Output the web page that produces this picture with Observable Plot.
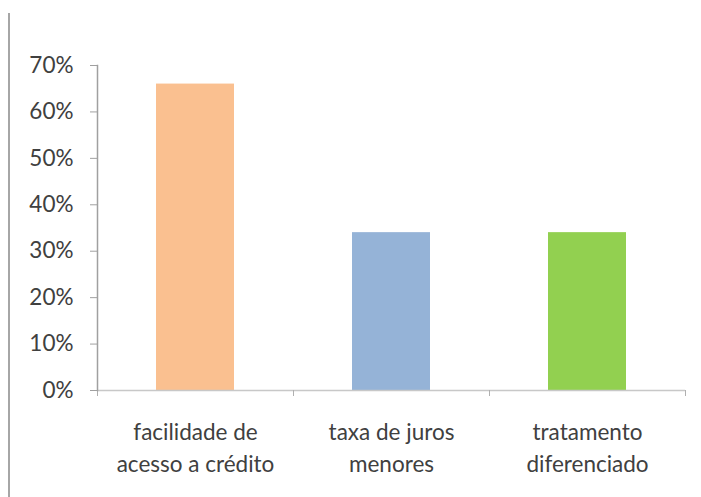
<!DOCTYPE html>
<html>
<head>
<meta charset="utf-8">
<script src="https://cdn.jsdelivr.net/npm/d3@7"></script>
<script src="https://cdn.jsdelivr.net/npm/@observablehq/plot@0.6"></script>
<style>
  body { margin: 0; background: #fff; }
  #chart { position: relative; width: 701px; height: 497px; overflow: hidden; }
  #chart .edge { position: absolute; left: 8px; top: 13px; bottom: 0; width: 2px; background: #a6a6a6; }
  #chart svg { position: absolute; left: 0; top: 0; }
</style>
</head>
<body>
<div id="chart"><div class="edge"></div></div>
<script>
// Reasons cited, share of respondents
const categories = [
  "facilidade de\nacesso a crédito",
  "taxa de juros\nmenores",
  "tratamento\ndiferenciado"
];
const shares = [0.66, 0.34, 0.34];
const barColors = ["#FAC090", "#95B3D7", "#92D050"];
const yTicks = [0, 0.1, 0.2, 0.3, 0.4, 0.5, 0.6, 0.7];

const data = categories.map((category, i) => ({ category, share: shares[i], color: barColors[i] }));

const width = 701, height = 497;
const margin = { top: 65, right: 16, bottom: 107, left: 97 };
const paddingInner = 0.6, paddingOuter = 0.3;
// distance between category centres, used to put the x ticks on the boundaries
const step = (width - margin.left - margin.right) / (categories.length - paddingInner + 2 * paddingOuter);

const font = "Lato, 'Open Sans', sans-serif";
const textColor = "#404040";

const chart = Plot.plot({
  width, height,
  marginTop: margin.top,
  marginRight: margin.right,
  marginBottom: margin.bottom,
  marginLeft: margin.left,
  style: { fontFamily: font, fontSize: "22.5px", color: textColor, background: "transparent" },
  x: { domain: categories, paddingInner, paddingOuter },
  y: { domain: [0, 0.7] },
  marks: [
    Plot.barY(data, { x: "category", y: "share", fill: "color" }),
    // horizontal baseline and category boundary ticks
    Plot.ruleY([0], { stroke: "#c8c8c8", strokeWidth: 1.5 }),
    Plot.ruleX(data, { x: "category", y1: 0, y2: 0, insetBottom: -6, dx: -step / 2, stroke: "#b0b0b0" }),
    Plot.ruleX(data.slice(-1), { x: "category", y1: 0, y2: 0, insetBottom: -6, dx: step / 2, stroke: "#b0b0b0" }),
    // vertical axis line
    Plot.frame({ anchor: "left", stroke: "#a0a0a0", strokeWidth: 1.5 }),
    Plot.axisY({
      ticks: yTicks,
      tickFormat: d3.format(".0%"),
      tickSize: 7,
      tickPadding: 17,
      stroke: "#a0a0a0",
      fill: textColor,
      label: null
    }),
    Plot.axisX({
      tickSize: 0,
      tickPadding: 27,
      lineHeight: 1.42,
      fill: textColor,
      label: null
    })
  ]
});

document.getElementById("chart").appendChild(chart);
</script>
</body>
</html>
